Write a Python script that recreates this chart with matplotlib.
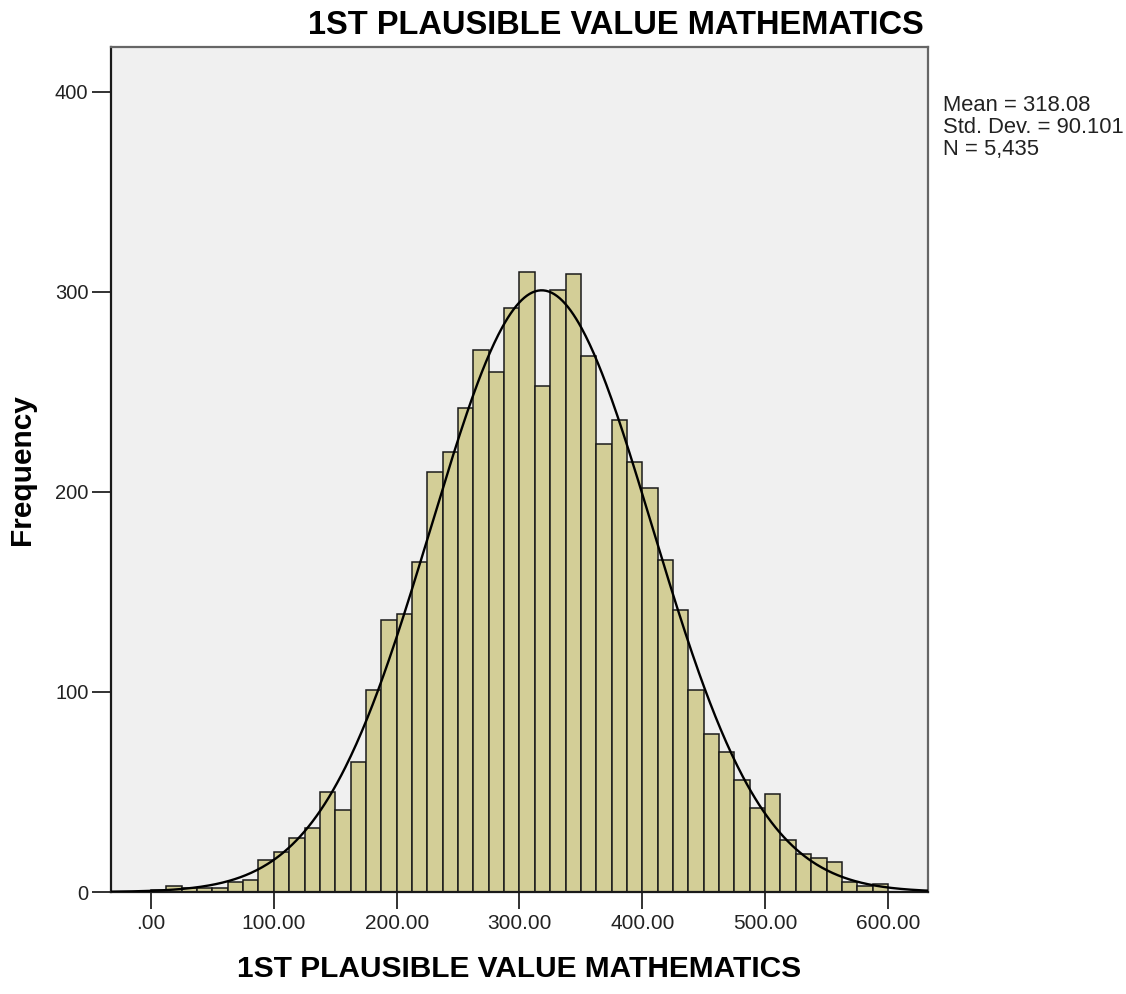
import numpy as np
import matplotlib
matplotlib.use('Agg')
import matplotlib.pyplot as plt

plt.rcParams['font.family'] = ['Liberation Sans', 'DejaVu Sans']

# histogram data (bin width 12.5, starting at 0)
bin_edges = np.arange(0, 600.1, 12.5)
counts = [1, 3, 2, 2, 2, 5, 6, 16,
          20, 27, 32, 50, 41, 65, 101, 136,
          139, 165, 210, 220, 242, 271, 260, 292,
          310, 253, 301, 309, 268, 224, 236, 215,
          202, 166, 141, 101, 79, 70, 56, 42,
          49, 26, 19, 17, 15, 5, 3, 4]

mean_val = 318.08
std_val = 90.101
n_val = 5435

x_ticks = [0, 100, 200, 300, 400, 500, 600]
x_tick_labels = ['.00', '100.00', '200.00', '300.00', '400.00', '500.00', '600.00']
y_ticks = [0, 100, 200, 300, 400]

title = '1ST PLAUSIBLE VALUE MATHEMATICS'

fig = plt.figure(figsize=(11.26, 9.94), dpi=100, facecolor='white')
ax = fig.add_axes([110.7 / 1126, 1 - 892 / 994, (928 - 110.7) / 1126, (892 - 46.7) / 994])
ax.set_facecolor('#F0F0F0')

widths = np.diff(bin_edges)
ax.bar(bin_edges[:-1], counts, width=widths, align='edge',
       color='#D3CE97', edgecolor='#1a1a1a', linewidth=1.1, zorder=2)

# fitted normal curve
xs = np.linspace(-33, 633, 600)
bw = bin_edges[1] - bin_edges[0]
ys = n_val * bw / (std_val * np.sqrt(2 * np.pi)) * np.exp(-0.5 * ((xs - mean_val) / std_val) ** 2)
ax.plot(xs, ys, color='black', linewidth=1.7, zorder=3)

ax.set_xlim(-32.8, 632.6)
ax.set_ylim(0, 422.6)
ax.set_xticks(x_ticks)
ax.set_xticklabels(x_tick_labels)
ax.set_yticks(y_ticks)
ax.tick_params(axis='y', direction='out', length=14, width=1.3, pad=2, labelsize=14.5, colors='#222222')
ax.tick_params(axis='x', direction='out', length=12, width=1.3, pad=4, labelsize=15, colors='#222222')

for side in ['left', 'bottom']:
    ax.spines[side].set_color('#1a1a1a')
    ax.spines[side].set_linewidth(1.6)
for side in ['top', 'right']:
    ax.spines[side].set_color('#666666')
    ax.spines[side].set_linewidth(1.6)

ax.set_xlabel(title, fontsize=21.5, fontweight='bold', labelpad=16)
ax.set_ylabel('Frequency', fontsize=21.5, fontweight='bold', labelpad=14)

fig.text(924 / 1126, 1 - 25 / 994, title, ha='right', va='center',
         fontsize=23.5, fontweight='bold')

stats = 'Mean = %.2f\nStd. Dev. = %.3f\nN = %s' % (mean_val, std_val, format(n_val, ','))
fig.text(943 / 1126, 1 - 95 / 994, stats, ha='left', va='top', fontsize=15.8,
         linespacing=1.06, color='#222222')

fig.savefig('out.png', dpi=100, facecolor='white')
